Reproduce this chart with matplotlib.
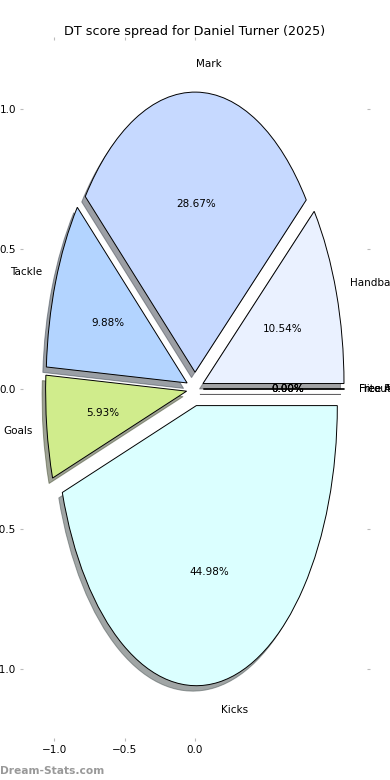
import matplotlib
matplotlib.use("Agg")
import matplotlib.pyplot as plt

labels = ["Handball", "Mark", "Tackle", "Goals", "Kicks", "Hitouts", "Free For", "Free Against"]
values = [10.54, 28.67, 9.88, 5.93, 44.98, 0.0, 0.0, 0.0]
colors = ["#eaf1ff", "#c6d9ff", "#b3d4ff", "#d0ec8c", "#dbffff", "#ffe0e0", "#e0ffe0", "#f0e0ff"]
xticks = [-1.0, -0.5, 0.0]
yticks = [-1.0, -0.5, 0.0, 0.5, 1.0]
title = "DT score spread for Daniel Turner (2025)"

fig = plt.figure(figsize=(3.9, 7.8), dpi=100)
ax = fig.add_axes([23 / 390, 42 / 780, 344 / 390, 698 / 780])
explode = [0.06] * len(values)
wedges, texts, autotexts = ax.pie(
    values, labels=labels, colors=colors, explode=explode, autopct="%1.2f%%",
    shadow={"ox": -0.018, "oy": -0.014}, startangle=0, frame=True,
    labeldistance=1.1,
    wedgeprops=dict(edgecolor="black", linewidth=0.7),
    textprops=dict(fontsize=7.5),
)
ax.set_aspect("auto")
ax.set_xlim(-1.22, 1.22)
ax.set_ylim(-1.246, 1.246)
ax.set_xticks(xticks)
ax.set_yticks(yticks)
ax.tick_params(axis="both", labelsize=7.5, color="#bbbbbb", length=2.5, pad=2.5,
               top=True, right=True, labeltop=False, labelright=False)
for s in ax.spines.values():
    s.set_visible(False)
ax.set_title(title, fontsize=9.2, pad=3.5)
fig.text(0.0, 0.005, "Dream-Stats.com", fontsize=7.7, color="#999999",
         fontweight="bold", ha="left", va="bottom")
fig.savefig("out.png", dpi=100)
